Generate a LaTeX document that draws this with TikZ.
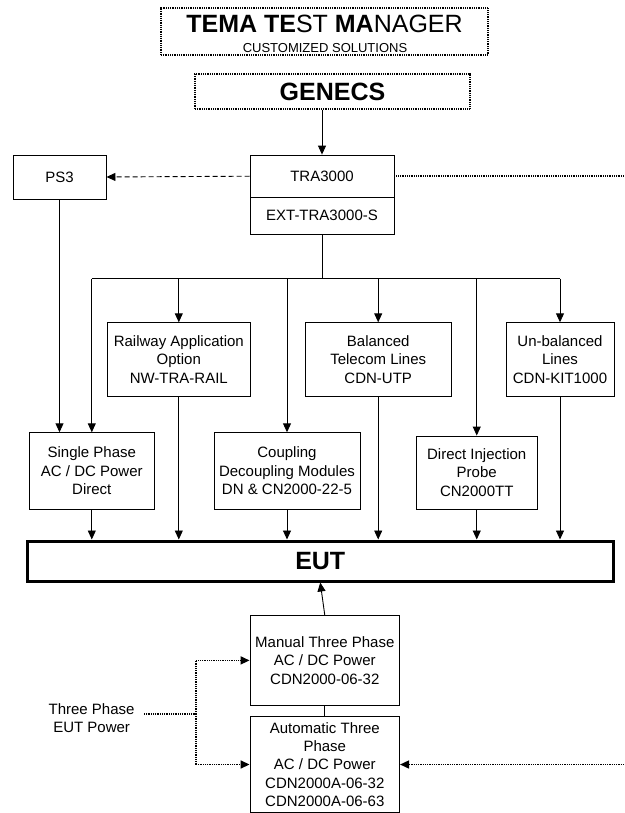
\documentclass[tikz,border=0pt]{standalone}
\usepackage{fontspec}
\setmainfont{Liberation Sans}
\usetikzlibrary{arrows.meta,positioning}
\tikzset{>={Triangle[length=9pt,width=8pt]}}
\tikzset{basic/.style={draw,fill=none,line width=0.9pt,align=center,
                       inner sep=0pt,font=\fontsize{15}{18.3}\selectfont}}
\tikzset{dotbox/.style={basic,line width=1.6pt,dash pattern=on 1pt off 0.8pt}}
\tikzset{eutbox/.style={basic,line width=3pt}}
\tikzset{link/.style={line width=0.9pt}}
\tikzset{dashlink/.style={link,dash pattern=on 5pt off 3pt}}
\tikzset{dotlink/.style={line width=1.6pt,dash pattern=on 1pt off 0.8pt}}
\newcommand{\bigfont}{\fontsize{25}{28}\selectfont}
\newcommand{\smallcaps}{\fontsize{13}{15}\selectfont}

\begin{document}
\begin{tikzpicture}[x=1pt,y=-1pt]
    \useasboundingbox (0,0) rectangle (624,813);
    % Header boxes
    \node[dotbox,minimum width=327pt,minimum height=47pt] (tema) at (324.5,31.5) {};
    \node[font=\bigfont] (temaname) at (324.5,23.5)
        {{\bfseries TEMA} {\bfseries TE}ST {\bfseries MA}NAGER};
    \node[font=\smallcaps] (temasub) at (325,48) {CUSTOMIZED SOLUTIONS};
    \node[dotbox,font=\bigfont\bfseries,minimum width=275pt,minimum height=35pt]
        (genecs) at (332.5,91.5) {GENECS};
    % Generator and PS3
    \node[basic,minimum width=144pt,minimum height=42.3pt] (tra) at (322,176.2) {TRA3000};
    \node[basic,minimum width=144pt,minimum height=36.7pt] (ext) at (322,215.7) {EXT-TRA3000-S};
    \node[basic,minimum width=93pt,minimum height=44pt] (ps3) at (59.5,177) {PS3};
    \draw[link,->] (tra.north |- genecs.south) -- (tra.north);
    \draw[dashlink,->] (tra.west) -- (ps3.east);
    \coordinate (trout) at (624,176.2);
    \draw[dotlink] (tra.east) -- (trout);
    % Upper row of coupling options
    \node[basic,minimum width=142.4pt,minimum height=73.3pt] (rail) at (178.8,359.4)
        {Railway Application\\Option\\NW-TRA-RAIL};
    \node[basic,minimum width=146.4pt,minimum height=73.3pt] (bal) at (378.2,359.4)
        {Balanced\\Telecom Lines\\CDN-UTP};
    \node[basic,minimum width=108pt,minimum height=73.3pt] (unbal) at (560,359.4)
        {Un-balanced\\Lines\\CDN-KIT1000};
    % Lower row of coupling options
    \node[basic,minimum width=125.6pt,minimum height=76.3pt] (single) at (91.8,470.9)
        {Single Phase\\AC / DC Power\\Direct};
    \node[basic,minimum width=146pt,minimum height=76.3pt] (coup) at (287,470.9)
        {Coupling\\Decoupling Modules\\DN \& CN2000-22-5};
    \node[basic,minimum width=121.5pt,minimum height=73pt] (dinj) at (476.75,472.5)
        {Direct Injection\\Probe\\CN2000TT};
    % EUT
    \node[eutbox,font=\bigfont\bfseries,minimum width=586.5pt,minimum height=40pt]
        (eut) at (320.25,561) {EUT};
    % Distribution bus
    \coordinate (bus) at (322,278.7);
    \draw[link] (ext.south) -- (bus);
    \draw[link] (single.north |- bus) -- (unbal.north |- bus);
    \foreach \n in {single,rail,coup,bal,dinj,unbal}{%
          \draw[link,->] (\n.north |- bus) -- (\n.north);
          \draw[link,->] (\n.south) -- (\n.south |- eut.north);
        }
    \draw[link,->] (ps3.south) -- (ps3.south |- single.north);
    % Three phase power
    \node[basic,minimum width=149.6pt,minimum height=89.3pt] (man) at (324.8,660.4)
        {Manual Three Phase\\AC / DC Power\\CDN2000-06-32};
    \node[basic,minimum width=149.6pt,minimum height=95.6pt] (auto) at (324.8,764.5)
        {Automatic Three\\Phase\\AC / DC Power\\CDN2000A-06-32\\CDN2000A-06-63};
    \draw[link,->] (man.north) -- (eut.south);
    \draw[link] (auto.north) -- (man.south);
    \node[draw=none,align=center,font=\fontsize{15}{18.3}\selectfont] (tpp) at (91.6,717.8)
        {Three Phase\\EUT Power};
    \coordinate (tpin) at (144,714);
    \coordinate (split) at (196,714);
    \draw[dotlink] (tpin) -- (split);
    \draw[dotlink,->] (split) |- (man.west);
    \draw[dotlink,->] (split) |- (auto.west);
    \coordinate (autoin) at (624,764.5);
    \draw[dotlink,->] (autoin) -- (auto.east);
\end{tikzpicture}
\end{document}
